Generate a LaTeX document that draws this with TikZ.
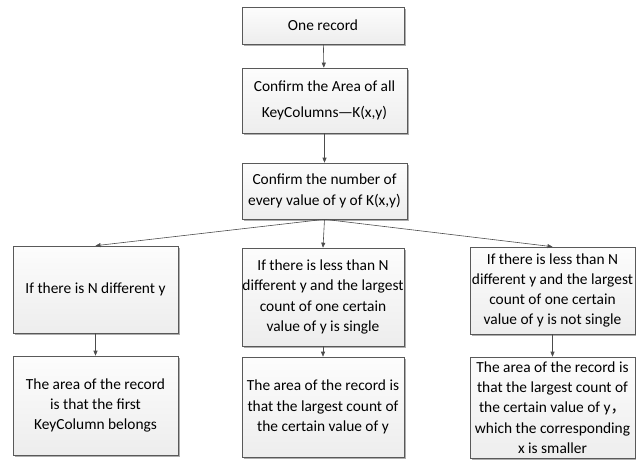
\documentclass[tikz,border=0pt]{standalone}
\usepackage{fontspec}
\setmainfont{Carlito}
\newfontfamily\cjk{Noto Sans CJK SC}
\usetikzlibrary{shadows,arrows.meta}
\begin{document}
\begin{tikzpicture}[x=1pt,y=-1pt,
  box/.style={draw=black!65, line width=0.6pt, top color=gray!2, bottom color=gray!14,
    drop shadow={shadow xshift=1.6pt, shadow yshift=-1.6pt, fill=black!45, opacity=0.7},
    align=center, inner sep=0pt, font=\fontsize{15.4}{20.3}\selectfont},
  arr/.style={draw=black!70, line width=0.6pt, -{Triangle[length=5pt,width=4pt]}}]
\useasboundingbox (0,0) rectangle (636,459);
\node[box, minimum width=162, minimum height=37] (b1) at (323,25.5) {One record};
\node[box, minimum width=165, minimum height=65, font=\fontsize{15.4}{26}\selectfont] (b2) at (324.5,100.5) {Confirm the Area of all\\KeyColumns{\cjk —}K(x,y)};
\node[box, minimum width=165, minimum height=56] (b3) at (324.5,191) {Confirm the number of\\every value of y of K(x,y)};
\node[box, minimum width=165, minimum height=87] (b4) at (95.5,289.5) {If there is N different y};
\node[box, minimum width=162, minimum height=98] (b5) at (323,297) {If there is less than N\\different y and the largest\\count of one certain\\value of y is single};
\node[box, minimum width=165, minimum height=87] (b6) at (552.5,290.5) {If there is less than N\\different y and the largest\\count of one certain\\value of y is not single};
\node[box, minimum width=165, minimum height=99] (b7) at (95.5,405.5) {The area of the record\\is that the first\\KeyColumn belongs};
\node[box, minimum width=162, minimum height=100] (b8) at (323,407) {The area of the record is\\that the largest count of\\the certain value of y};
\node[box, minimum width=165, minimum height=101] (b9) at (552.5,407.5) {The area of the record is\\that the largest count of\\the certain value of y{\cjk ，}\\which the corresponding\\x is smaller};
\draw[arr] (b1) -- (b2);
\draw[arr] (b2) -- (b3);
\draw[arr] (b3.south) -- (b4.north);
\draw[arr] (b3.south) -- (b5.north);
\draw[arr] (b3.south) -- (b6.north);
\draw[arr] (b4) -- (b7);
\draw[arr] (b5) -- (b8);
\draw[arr] (b6) -- (b9);
\end{tikzpicture}
\end{document}
